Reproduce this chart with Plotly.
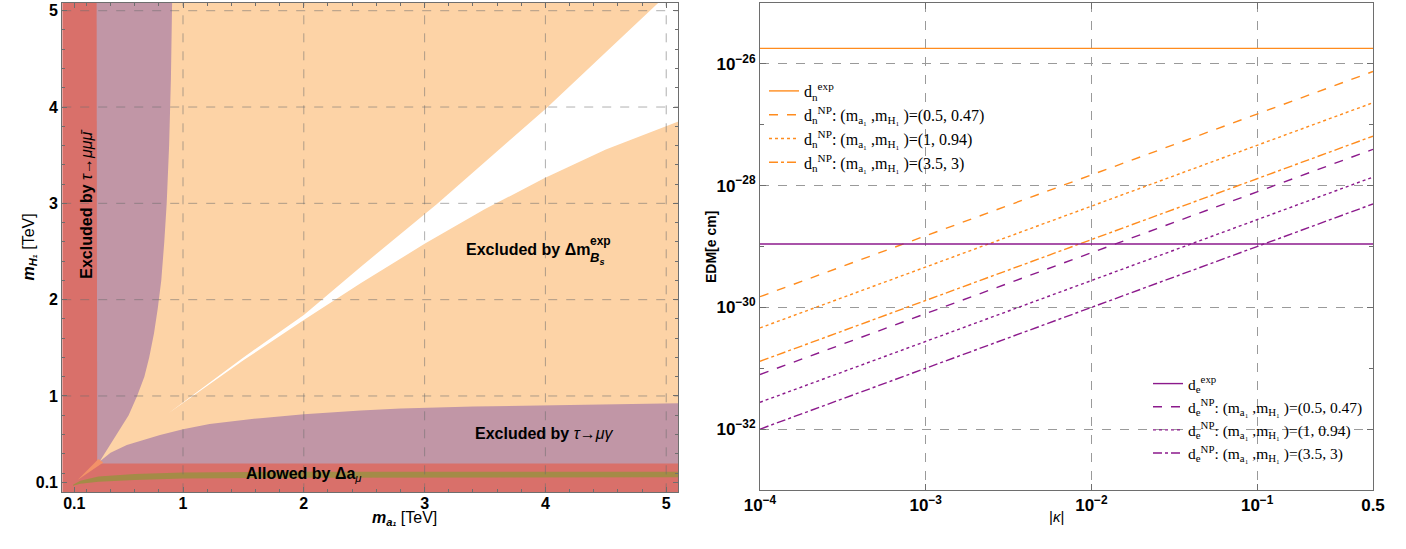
import plotly.graph_objects as go

# ---------------- Left panel data (region boundaries, TeV) ----------------
red_x = [0, 5.1, 5.1, 0]
red_y = [0, 0, 5.1, 5.1]

purple_x = [0.285, 0.285, 0.29, 0.30, 0.33, 5.1, 5.1]
purple_y = [5.1, 0.34, 0.32, 0.307, 0.30, 0.30, 5.1]

# orange (Delta m_Bs) region: left boundary bottom->top, then right edge, then lower boundary right->left
orange_left_x = [0.31, 0.35, 0.40, 0.47, 0.55, 0.62, 0.68, 0.72, 0.76, 0.79, 0.82, 0.845, 0.865, 0.885, 0.90, 0.91]
orange_left_y = [0.32, 0.40, 0.50, 0.65, 0.80, 1.00, 1.20, 1.40, 1.65, 1.90, 2.20, 2.60, 3.00, 3.60, 4.30, 5.1]
orange_low_x = [5.1, 4.0, 3.4, 2.8, 2.47, 2.0, 1.64, 1.22, 1.0, 0.81, 0.535, 0.40, 0.31]
orange_low_y = [0.925, 0.905, 0.89, 0.87, 0.85, 0.81, 0.77, 0.71, 0.655, 0.595, 0.49, 0.41, 0.32]

tongue_x = [0.13, 0.30, 0.34, 0.13]
tongue_y = [0.13, 0.345, 0.31, 0.13]

# white allowed wedge
wedge_low_x = [0.88, 1.5, 2.0, 2.22, 2.47, 3.0, 3.5, 3.99, 4.5, 5.1]
wedge_low_y = [0.82, 1.37, 1.79, 1.97, 2.17, 2.58, 2.94, 3.26, 3.56, 3.85]
wedge_up_x = [4.95, 4.01, 3.1, 2.47, 2.0, 1.5, 0.88]
wedge_up_y = [5.1, 3.99, 2.99, 2.34, 1.84, 1.40, 0.82]

# green band (Delta a_mu allowed)
green_low_x = [0.09, 0.15, 0.3, 0.6, 1.0, 2.0, 5.1]
green_low_y = [0.068, 0.09, 0.11, 0.128, 0.142, 0.152, 0.157]
green_up_x = [5.1, 2.0, 1.0, 0.6, 0.3, 0.15, 0.09]
green_up_y = [0.214, 0.214, 0.205, 0.19, 0.165, 0.12, 0.078]

left_ticks = [0.1, 1, 2, 3, 4, 5]
left_ticktext = ["0.1", "1", "2", "3", "4", "5"]
left_grid = [1, 2, 3, 4, 5]

# ---------------- Right panel data ----------------
kappa = [1e-4, 0.5]
dn_exp = [1.8e-26, 1.8e-26]
dn_np_a = [1.5e-30, 7.5e-27]   # (0.5, 0.47)
dn_np_b = [4.6e-31, 2.3e-27]   # (1, 0.94)
dn_np_c = [1.3e-31, 6.5e-28]   # (3.5, 3)
de_exp = [1.1e-29, 1.1e-29]
de_np_a = [7.9e-32, 3.95e-28]
de_np_b = [2.76e-32, 1.38e-28]
de_np_c = [1.0e-32, 5.0e-29]

xr_ticks = [1e-4, 1e-3, 1e-2, 1e-1, 0.5]
xr_text = ["10<sup>−4</sup>", "10<sup>−3</sup>", "10<sup>−2</sup>", "10<sup>−1</sup>", "0.5"]
yr_ticks = [1e-32, 1e-30, 1e-28, 1e-26]
yr_text = ["10<sup>−32</sup>", "10<sup>−30</sup>", "10<sup>−28</sup>", "10<sup>−26</sup>"]
yr_minor = [1e-33, 1e-31, 1e-29, 1e-27, 1e-25]

RED = "#d9706a"
PURPLE = "#c196a6"
ORANGE = "#fdd3a6"
GREEN = "#a48b47"
TONGUE = "#f39268"
ORG_LINE = "#ff8c1e"
PUR_LINE = "#8c1a8c"

fig = go.Figure()


def region(xs, ys, color):
    fig.add_trace(go.Scatter(x=xs, y=ys, fill="toself", fillcolor=color, mode="lines",
                             line=dict(width=0, color=color), showlegend=False,
                             hoverinfo="skip", xaxis="x", yaxis="y"))


region(red_x, red_y, RED)
region(purple_x, purple_y, PURPLE)
region(orange_left_x + [5.1] + orange_low_x, orange_left_y + [5.1] + orange_low_y, ORANGE)
region(tongue_x, tongue_y, TONGUE)
region(wedge_low_x + [5.1] + wedge_up_x, wedge_low_y + [5.1] + wedge_up_y, "#ffffff")
region(green_low_x + green_up_x, green_low_y + green_up_y, GREEN)

# ---------------- Right panel traces ----------------
serif = "Liberation Serif"


def np_label(q, pair):
    return ("d<sub>%s</sub><sup>NP</sup>: (m<sub>a₁</sub> ,m<sub>H₁</sub> )=%s" % (q, pair))


right_series = [
    (dn_exp, "d<sub>n</sub><sup>exp</sup>", ORG_LINE, "solid", "legend"),
    (dn_np_a, np_label("n", "(0.5, 0.47)"), ORG_LINE, "dash", "legend"),
    (dn_np_b, np_label("n", "(1, 0.94)"), ORG_LINE, "dot", "legend"),
    (dn_np_c, np_label("n", "(3.5, 3)"), ORG_LINE, "dashdot", "legend"),
    (de_exp, "d<sub>e</sub><sup>exp</sup>", PUR_LINE, "solid", "legend2"),
    (de_np_a, np_label("e", "(0.5, 0.47)"), PUR_LINE, "dash", "legend2"),
    (de_np_b, np_label("e", "(1, 0.94)"), PUR_LINE, "dot", "legend2"),
    (de_np_c, np_label("e", "(3.5, 3)"), PUR_LINE, "dashdot", "legend2"),
]
for vals, name, col, dash, leg in right_series:
    fig.add_trace(go.Scatter(x=kappa, y=vals, mode="lines", name=name,
                             line=dict(color=col, dash=dash, width=1.4),
                             xaxis="x2", yaxis="y2", legend=leg))

# ---------------- Left gridlines above fills ----------------
shapes = []
for g in left_grid:
    shapes.append(dict(type="line", xref="x", yref="y", x0=g, x1=g, y0=0, y1=5.08,
                       line=dict(color="rgba(110,110,110,0.55)", width=1, dash="dash"), layer="above"))
    shapes.append(dict(type="line", xref="x", yref="y", x0=0, x1=5.1, y0=g, y1=g,
                       line=dict(color="rgba(110,110,110,0.55)", width=1, dash="dash"), layer="above"))

bold_sans = dict(family="Liberation Sans", size=16, color="black", weight="bold")
frame = "#6e6e6e"

fig.update_layout(
    width=1406, height=549,
    margin=dict(l=0, r=0, t=0, b=0, autoexpand=False),
    paper_bgcolor="white", plot_bgcolor="white",
    shapes=shapes,
    xaxis=dict(domain=[62.2 / 1406, 678.3 / 1406], range=[0, 5.1], tickmode="array",
               tickvals=left_ticks, ticktext=left_ticktext, ticks="inside", ticklen=5,
               tickcolor=frame, showline=True, linecolor=frame, linewidth=1, mirror="ticks",
               showgrid=False, zeroline=False, tickfont=bold_sans, automargin=False,
               ticklabelstandoff=-4,
               minor=dict(tickmode="linear", tick0=0, dtick=0.2, ticks="inside", ticklen=3,
                          tickcolor=frame, showgrid=False)),
    yaxis=dict(domain=[1 - 492.3 / 549, 1 - 3 / 549], range=[0, 5.08], tickmode="array",
               tickvals=left_ticks, ticktext=left_ticktext, ticks="inside", ticklen=5,
               tickcolor=frame, showline=True, linecolor=frame, linewidth=1, mirror="ticks",
               showgrid=False, zeroline=False, tickfont=bold_sans, automargin=False,
               minor=dict(tickmode="linear", tick0=0, dtick=0.2, ticks="inside", ticklen=3,
                          tickcolor=frame, showgrid=False)),
    xaxis2=dict(domain=[760 / 1406, 1373 / 1406], type="log", range=[-4, -0.30103],
                tickmode="array", tickvals=xr_ticks, ticktext=xr_text, ticks="inside", ticklen=6,
                tickcolor=frame, showline=True, linecolor=frame, linewidth=1, mirror="ticks",
                showgrid=True, gridcolor="#9a9a9a", griddash="dash", gridwidth=1, zeroline=False,
                tickfont=dict(family="Liberation Sans", size=17, color="black", weight="bold"),
                anchor="y2", automargin=False),
    yaxis2=dict(domain=[1 - 490 / 549, 1 - 3 / 549], type="log", range=[-33, -25],
                tickmode="array", tickvals=yr_ticks, ticktext=yr_text, ticks="inside", ticklen=6,
                tickcolor=frame, showline=True, linecolor=frame, linewidth=1, mirror="ticks",
                showgrid=True, gridcolor="#9a9a9a", griddash="dash", gridwidth=1, zeroline=False,
                tickfont=dict(family="Liberation Sans", size=17, color="black", weight="bold"),
                minor=dict(tickmode="array", tickvals=yr_minor, ticks="inside", ticklen=4,
                           tickcolor=frame, showgrid=False),
                anchor="x2", automargin=False),
    legend=dict(x=764 / 1406, y=1 - 74 / 549, xanchor="left", yanchor="top",
                bgcolor="rgba(0,0,0,0)", font=dict(family=serif, size=16, color="black"),
                tracegroupgap=0, itemwidth=30),
    legend2=dict(x=1148 / 1406, y=1 - 367 / 549, xanchor="left", yanchor="top",
                 bgcolor="rgba(0,0,0,0)", font=dict(family=serif, size=15.5, color="black"),
                 tracegroupgap=0, itemwidth=30),
)

ann_font = dict(family="Liberation Sans", size=16, color="black")
annotations = [
    dict(x=0.2, y=3.0, xref="x", yref="y", textangle=-90, showarrow=False,
         text="<b>Excluded by </b><i>τ→μμ</i><i>μ̄</i>", font=ann_font),
    # "Excluded by Δm^exp_Bs" with stacked super/subscript
    dict(x=3.33, y=2.516, xref="x", yref="y", xanchor="left", showarrow=False,
         text="<b>Excluded by Δm</b>", font=ann_font),
    dict(x=4.35, y=2.61, xref="x", yref="y", xanchor="left", showarrow=False,
         text="<b>exp</b>", font=dict(family="Liberation Sans", size=12, color="black")),
    dict(x=4.35, y=2.43, xref="x", yref="y", xanchor="left", showarrow=False,
         text="<b><i>B</i></b><sub><b><i>s</i></b></sub>", font=dict(family="Liberation Sans", size=13, color="black")),
    dict(x=3.99, y=0.61, xref="x", yref="y", showarrow=False,
         text="<b>Excluded by </b><i>τ→μγ</i>", font=ann_font),
    dict(x=2.0, y=0.19, xref="x", yref="y", showarrow=False,
         text="<b>Allowed by Δa</b><sub><i>μ</i></sub>", font=ann_font),
    # axis titles
    dict(x=370 / 1406, y=1 - 530 / 549, xref="paper", yref="paper", showarrow=False,
         text="<b><i>m</i></b><sub><b><i>a₁</i></b></sub> [TeV]", font=dict(family="Liberation Sans", size=16, color="black")),
    dict(x=17 / 1406, y=1 - 247 / 549, xref="paper", yref="paper", showarrow=False, textangle=-90,
         text="<b><i>m</i></b><sub><b><i>H₁</i></b></sub> [TeV]", font=dict(family="Liberation Sans", size=16, color="black")),
    dict(x=711 / 1406, y=1 - 247 / 549, xref="paper", yref="paper", showarrow=False, textangle=-90,
         text="<b>EDM[e cm]</b>", font=dict(family="Liberation Sans", size=14, color="black")),
    dict(x=1066 / 1406, y=1 - 527 / 549, xref="paper", yref="paper", showarrow=False,
         text="|<i>κ</i>|", font=dict(family="Liberation Sans", size=15, color="black")),
]
fig.update_layout(annotations=annotations)

fig.write_html("out.html", config={"displayModeBar": False},
               post_script="document.body.style.margin='0';document.body.style.overflow='hidden';")
